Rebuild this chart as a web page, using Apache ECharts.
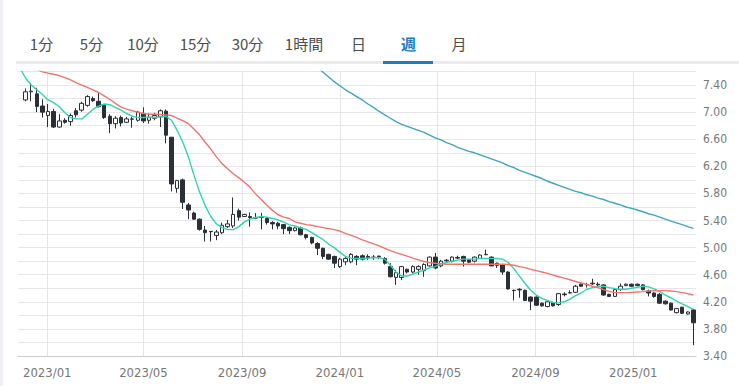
<!DOCTYPE html>
<html>
<head>
<meta charset="utf-8">
<script src="https://cdn.jsdelivr.net/npm/echarts@6/dist/echarts.min.js"></script>
<style>
html,body{margin:0;padding:0;background:#fff;}
#chart{width:739px;height:386px;}
</style>
</head>
<body>
<div id="chart"></div>
<script>
// ---- data (weekly candles, index 0 lies left of the visible window) ----
const tabLabels = ['1分','5分','10分','15分','30分','1時間','日','週','月'];
const selectedTab = '週';
const firstWeek = [2022, 10, 28]; // Monday of first weekly bar (month 0-based)
const weekCount = 121;
// x tick labels (year, month 1-based)
const xTickMonths = [[2023,1],[2023,5],[2023,9],[2024,1],[2024,5],[2024,9],[2025,1]];

const opens = [null,
 7.18,7.30,7.27,7.09,6.95,7.01,6.78,6.88,6.86,7.02,
 7.03,7.10,7.20,7.16,7.10,6.94,6.83,6.92,6.85,6.895,
 6.88,6.98,6.88,6.91,6.93,7.015,6.63,5.875,6.00,5.63,
 5.51,5.42,5.26,5.24,5.18,5.22,5.31,5.32,5.545,5.46,
 5.46,5.445,5.455,5.43,5.37,5.36,5.34,5.30,5.25,5.29,
 5.19,5.15,5.06,4.99,4.90,4.87,4.72,4.79,4.79,4.87,
 4.88,4.87,4.855,4.875,4.84,4.72,4.56,4.56,4.68,4.64,
 4.68,4.66,4.73,4.86,4.73,4.815,4.80,4.855,4.87,4.82,
 4.80,4.84,4.895,4.86,4.77,4.75,4.64,4.37,4.385,4.37,
 4.27,4.27,4.18,4.13,4.19,4.16,4.315,4.33,4.34,4.46,
 4.45,4.475,4.46,4.45,4.31,4.28,4.38,4.44,4.46,4.46,
 4.45,4.36,4.33,4.31,4.21,4.18,4.04,4.12,4.02,4.08];
const closes = [null,
 7.30,7.31,7.085,7.00,7.01,6.78,6.87,6.85,6.95,6.96,
 7.13,7.23,7.17,7.08,6.92,6.83,6.91,6.84,6.90,6.90,
 7.00,6.87,6.92,6.95,7.02,6.66,5.94,5.99,5.67,5.555,
 5.42,5.27,5.22,5.235,5.23,5.33,5.35,5.49,5.45,5.49,
 5.445,5.435,5.445,5.37,5.35,5.32,5.28,5.25,5.29,5.19,
 5.15,5.07,4.99,4.87,4.83,4.77,4.83,4.84,4.90,4.83,
 4.83,4.85,4.86,4.865,4.77,4.57,4.63,4.72,4.64,4.72,
 4.72,4.75,4.86,4.70,4.80,4.805,4.86,4.845,4.80,4.785,
 4.86,4.89,4.90,4.73,4.74,4.64,4.39,4.365,4.375,4.22,
 4.21,4.15,4.14,4.20,4.14,4.32,4.305,4.335,4.43,4.43,
 4.455,4.465,4.45,4.30,4.28,4.38,4.43,4.46,4.43,4.44,
 4.38,4.33,4.28,4.18,4.17,4.08,4.10,4.03,4.05,3.89];
const lows = [null,
 7.16,7.16,7.00,6.92,6.78,6.765,6.77,6.83,6.80,6.92,
 7.005,7.08,7.15,7.07,6.90,6.69,6.76,6.79,6.84,6.77,
 6.86,6.84,6.83,6.88,6.78,6.54,5.83,5.81,5.57,5.42,
 5.41,5.25,5.09,5.09,5.11,5.20,5.29,5.29,5.40,5.45,
 5.31,5.42,5.27,5.34,5.27,5.27,5.20,5.20,5.24,5.18,
 5.12,5.05,4.89,4.83,4.82,4.70,4.70,4.74,4.77,4.74,
 4.81,4.82,4.82,4.83,4.75,4.56,4.45,4.52,4.62,4.62,
 4.60,4.57,4.72,4.68,4.71,4.79,4.78,4.83,4.72,4.77,
 4.78,4.83,4.89,4.73,4.70,4.60,4.38,4.22,4.26,4.21,
 4.08,4.14,4.13,4.12,4.13,4.14,4.28,4.325,4.33,4.42,
 4.41,4.45,4.43,4.29,4.27,4.27,4.36,4.43,4.42,4.43,
 4.37,4.28,4.26,4.17,4.16,4.07,4.03,4.02,4.01,3.56];
const highs = [null,
 7.35,7.43,7.36,7.19,7.12,7.05,6.97,6.91,6.98,7.06,
 7.155,7.25,7.23,7.28,7.12,6.97,6.94,6.95,6.93,6.93,
 7.02,7.07,6.98,6.99,7.04,7.04,6.63,6.00,6.02,5.66,
 5.53,5.43,5.32,5.24,5.26,5.37,5.41,5.74,5.575,5.50,
 5.52,5.51,5.51,5.45,5.39,5.38,5.35,5.31,5.30,5.31,
 5.20,5.16,5.08,5.00,4.91,4.88,4.85,4.86,4.92,4.89,
 4.90,4.90,4.89,4.88,4.86,4.77,4.67,4.73,4.69,4.74,
 4.74,4.77,4.87,4.92,4.82,4.83,4.87,4.88,4.88,4.835,
 4.87,4.90,4.97,4.87,4.78,4.76,4.65,4.38,4.40,4.38,
 4.28,4.28,4.19,4.21,4.20,4.33,4.34,4.37,4.45,4.47,
 4.48,4.54,4.49,4.46,4.32,4.39,4.47,4.47,4.47,4.47,
 4.46,4.38,4.34,4.33,4.22,4.19,4.11,4.13,4.06,4.09];

// moving averages (null = outside the plot)
const ma13 = [7.65,
 7.50,7.40,7.33,7.26,7.18,7.14,7.08,6.99,6.92,6.90,
 6.90,6.97,7.04,7.09,7.12,7.11,7.07,7.03,6.98,6.94,
 6.92,6.92,6.93,6.92,6.93,6.94,6.88,6.73,6.56,6.34,
 6.07,5.82,5.62,5.46,5.35,5.295,5.265,5.265,5.31,5.38,
 5.42,5.445,5.46,5.45,5.43,5.41,5.375,5.335,5.32,5.29,
 5.27,5.22,5.17,5.12,5.05,5.00,4.93,4.87,4.845,4.84,
 4.84,4.845,4.85,4.85,4.83,4.74,4.64,4.58,4.58,4.61,
 4.64,4.67,4.70,4.72,4.76,4.78,4.80,4.815,4.83,4.83,
 4.83,4.84,4.84,4.84,4.84,4.83,4.78,4.69,4.58,4.47,
 4.37,4.30,4.25,4.22,4.19,4.185,4.20,4.24,4.29,4.33,
 4.385,4.41,4.425,4.43,4.41,4.395,4.385,4.385,4.40,4.415,
 4.43,4.42,4.39,4.35,4.30,4.26,4.21,4.17,4.13,4.09];
const ma26 = [null,
 null,null,7.63,7.595,7.575,7.56,7.54,7.51,7.475,7.435,
 7.40,7.365,7.33,7.29,7.24,7.19,7.13,7.075,7.045,7.02,
 7.00,6.98,6.97,6.97,6.965,6.96,6.95,6.91,6.875,6.83,
 6.75,6.665,6.555,6.455,6.34,6.24,6.165,6.09,6.03,5.965,
 5.89,5.79,5.71,5.625,5.55,5.485,5.45,5.43,5.38,5.36,
 5.34,5.33,5.31,5.295,5.28,5.265,5.245,5.21,5.18,5.15,
 5.115,5.085,5.055,5.025,4.99,4.955,4.925,4.90,4.875,4.845,
 4.82,4.795,4.78,4.77,4.76,4.755,4.755,4.755,4.755,4.755,
 4.755,4.755,4.755,4.755,4.755,4.755,4.75,4.74,4.72,4.705,
 4.68,4.66,4.64,4.62,4.595,4.57,4.55,4.525,4.50,4.48,
 4.455,4.43,4.41,4.38,4.355,4.335,4.335,4.335,4.34,4.345,
 4.35,4.36,4.365,4.365,4.365,4.36,4.35,4.335,4.32,4.30];
const ma52 = [null,
 null,null,null,null,null,null,null,null,null,null,
 null,null,null,null,null,null,null,null,null,null,
 null,null,null,null,null,null,null,null,null,null,
 null,null,null,null,null,null,null,null,null,null,
 null,null,null,null,null,null,null,null,null,null,
 null,null,7.66,7.59,7.52,7.45,7.39,7.33,7.28,7.23,
 7.18,7.12,7.07,7.01,6.96,6.91,6.86,6.82,6.79,6.76,
 6.73,6.70,6.66,6.62,6.59,6.55,6.52,6.48,6.45,6.42,
 6.40,6.37,6.34,6.31,6.28,6.25,6.21,6.18,6.14,6.11,
 6.08,6.05,6.02,5.98,5.95,5.92,5.89,5.86,5.83,5.81,
 5.78,5.76,5.73,5.71,5.68,5.655,5.63,5.60,5.58,5.555,
 5.53,5.50,5.48,5.45,5.42,5.39,5.365,5.34,5.31,5.285];

const yMin = 3.4, yMax = 7.6, yStep = 0.2;

// ---- build ----
const weeks = [];
for (let i = 0; i < weekCount; i++) {
  const d = new Date(firstWeek[0], firstWeek[1], firstWeek[2] + 7 * i);
  weeks.push(d.getTime());
}
const xTicks = xTickMonths.map(([y, m]) => new Date(y, m - 1, 1).getTime());
const candleData = [];
for (let i = 0; i < weekCount; i++) {
  if (opens[i] == null) continue;
  candleData.push([weeks[i], opens[i], closes[i], lows[i], highs[i]]);
}
const lineData = arr => weeks.map((t, i) => [t, arr[i] == null ? '-' : arr[i]]);

const chart = echarts.init(document.getElementById('chart'), null, {renderer: 'svg'});

const tabCenters = [41.5, 91.5, 143, 195.5, 247.5, 304, 358.5, 408.5, 459];
const graphics = [
  {type: 'rect', shape: {x: 0, y: 0, width: 3, height: 386}, style: {fill: '#eef0f3'}, silent: true},
  {type: 'rect', shape: {x: 16, y: 61, width: 723, height: 3}, style: {fill: '#ebebeb'}, silent: true},
  {type: 'rect', shape: {x: 383, y: 61, width: 50, height: 3}, style: {fill: '#1a7cc4'}, silent: true}
];
tabLabels.forEach((t, k) => {
  const sel = t === selectedTab;
  graphics.push({
    type: 'text', x: tabCenters[k], y: 43, silent: true,
    style: {
      text: t, align: 'center', verticalAlign: 'middle',
      fill: sel ? '#1a7cc4' : '#4d4d4d',
      font: (sel ? 'bold ' : '') + '15px "Noto Sans CJK JP", sans-serif'
    }
  });
});

const lineSeries = (name, arr, color) => ({
  name, type: 'line', data: lineData(arr), showSymbol: false, symbol: 'none',
  connectNulls: false, clip: true, silent: true,
  lineStyle: {color, width: 1.4}, z: 3, animation: false
});

chart.setOption({
  animation: false,
  backgroundColor: '#fff',
  graphic: graphics,
  grid: {left: 18, right: 43, top: 71.5, bottom: 30, containLabel: false},
  xAxis: {
    type: 'value', scale: true,
    min: new Date(2022, 10, 25, 12).getTime(),
    max: new Date(2025, 2, 20, 6).getTime(),
    axisLine: {show: true, onZero: false, lineStyle: {color: '#c9cdd8', width: 1}},
    axisTick: {show: false, customValues: xTicks},
    splitLine: {show: true, lineStyle: {color: '#e3e5ea', width: 1}},
    axisLabel: {
      customValues: xTicks,
      color: '#777', fontSize: 13, margin: 10,
      fontFamily: "'Liberation Sans Narrow', 'DejaVu Sans Condensed', sans-serif",
      formatter: v => {
        const d = new Date(v);
        return d.getFullYear() + '/' + String(d.getMonth() + 1).padStart(2, '0');
      }
    }
  },
  yAxis: {
    type: 'value', position: 'right', min: yMin, max: yMax, interval: yStep,
    axisLine: {show: false}, axisTick: {show: false},
    splitLine: {show: true, lineStyle: {color: '#e6e6e6', width: 1}},
    axisLabel: {
      color: '#777', fontSize: 12, margin: 7,
      fontFamily: "'Liberation Sans Narrow', 'DejaVu Sans Condensed', sans-serif",
      formatter: v => (Math.round((v - yMin) / yStep) % 2 === 0 ? v.toFixed(2) : '')
    }
  },
  series: [
    {
      type: 'candlestick', data: candleData, encode: {x: 0, y: [1, 2, 3, 4]},
      barWidth: 4, clip: true, silent: true, z: 2,
      itemStyle: {color: '#ffffff', color0: '#2b2f36', borderColor: '#2b2f36', borderColor0: '#2b2f36', borderWidth: 1}
    },
    lineSeries('13週', ma13, '#2fd4b1'),
    lineSeries('26週', ma26, '#f2736e'),
    lineSeries('52週', ma52, '#3fa3c2')
  ]
});
</script>
</body>
</html>
